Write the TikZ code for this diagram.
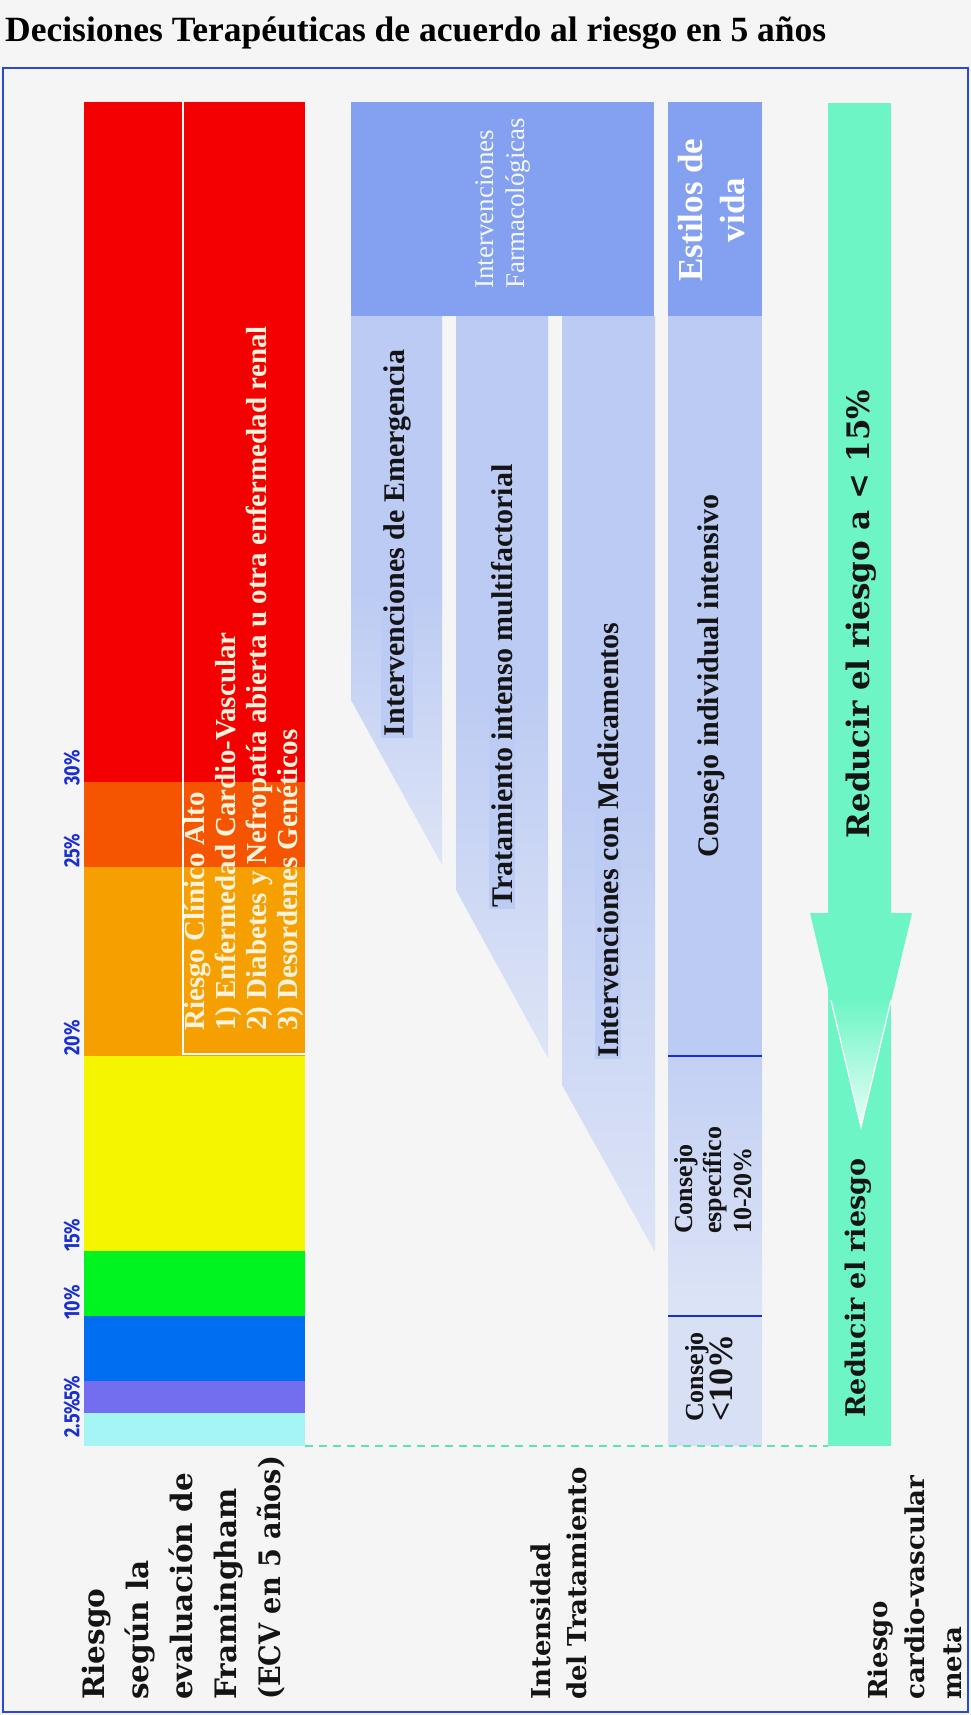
\documentclass[tikz,border=0pt]{standalone}
\usepackage{graphicx}
\usepackage{fontspec}
\setmainfont{Liberation Serif}
\newfontfamily\dvserif{DejaVu Serif}
\newfontfamily\pctfont{Fira Sans}
\newcommand\pctlab[1]{\scalebox{0.82}[1]{#1}}
\definecolor{bgc}{HTML}{F5F5F5}
\definecolor{framec}{HTML}{2B47D6}
\definecolor{cRed}{HTML}{F50000}
\definecolor{cDOr}{HTML}{F55500}
\definecolor{cOr}{HTML}{F5A000}
\definecolor{cYe}{HTML}{F5F500}
\definecolor{cGr}{HTML}{00F520}
\definecolor{cBl}{HTML}{006EF0}
\definecolor{cPu}{HTML}{736EF0}
\definecolor{cCy}{HTML}{A5F5F5}
\definecolor{pctblue}{HTML}{1A2FD0}
\definecolor{hdr}{HTML}{84A0F0}
\definecolor{colA}{HTML}{BCCBF3}
\definecolor{colB}{HTML}{DDE4F6}
\definecolor{mint}{HTML}{6EF5C6}
\definecolor{mintd}{HTML}{5EE3B4}
\definecolor{sepblue}{HTML}{1530D0}
\definecolor{cream}{HTML}{FFF3DC}
\tikzset{
  pct/.style={rotate=90, anchor=west, inner sep=0pt, text=pctblue,
    font=\pctfont\bfseries\fontsize{22}{24}\selectfont},
  coltext/.style={rotate=90, inner sep=2pt, fill=colA, text=black!92,
    font=\bfseries\fontsize{30}{34}\selectfont},
  rowlabel/.style={rotate=90, anchor=west, inner sep=0pt, align=left,
    text=black!92, font=\dvserif\bfseries\fontsize{29.5}{44}\selectfont},
  greentext/.style={rotate=90, inner sep=0pt, text=black!92,
    font=\dvserif\bfseries\fontsize{27}{32}\selectfont},
  colshade/.style={top color=colA, bottom color=colB, middle color=colA},
}
\begin{document}
\begin{tikzpicture}[x=1pt,y=-1pt]
\useasboundingbox (0,0) rectangle (971,1715);
\fill[bgc] (0,0) rectangle (971,1715);
% title
\node[anchor=west, inner sep=0pt, font=\bfseries\fontsize{35.5}{40}\selectfont] (title) at (5,33)
  {Decisiones Terapéuticas de acuerdo al riesgo en 5 años};
% frame
\draw[framec, line width=2pt] (3,68) rectangle (968,1712);
% risk bars
\fill[cRed] (84,102) rectangle (305,782);
\fill[cDOr] (84,782) rectangle (305,867);
\fill[cOr]  (84,867) rectangle (305,1056);
\fill[cYe]  (84,1056) rectangle (305,1251);
\fill[cGr]  (84,1251) rectangle (305,1316);
\fill[cBl]  (84,1316) rectangle (305,1381);
\fill[cPu]  (84,1381) rectangle (305,1413);
\fill[cCy]  (84,1413) rectangle (305,1446);
\draw[white, line width=1.5pt] (183,102) -- (183,1054) -- (305,1054);
\node[rotate=90, anchor=west, inner sep=0pt, align=left, text=cream,
  font=\bfseries\fontsize{29}{31}\selectfont] (alto) at (244,1031)
  {Riesgo Clínico Alto\\1) Enfermedad Cardio-Vascular\\2) Diabetes y Nefropatía abierta u otra enfermedad renal\\3) Desordenes Genéticos};
% percentages
\node[pct] (p30) at (72,786) {\pctlab{30\%}};
\node[pct] (p25) at (72,868) {\pctlab{25\%}};
\node[pct] (p20) at (72,1056) {\pctlab{20\%}};
\node[pct] (p15) at (72,1252) {\pctlab{15\%}};
\node[pct] (p10) at (72,1320) {\pctlab{10\%}};
\node[pct] (p5) at (72,1401) {\pctlab{5\%}};
\node[pct] (p25b) at (72,1438) {\pctlab{2.5\%}};
% header boxes
\fill[hdr] (351,102) rectangle (654,316);
\fill[hdr] (668,102) rectangle (762,316);
\node[rotate=90, anchor=west, inner sep=0pt, align=left, text=white!92!hdr,
  font=\fontsize{27}{31}\selectfont] (farma) at (503,289)
  {Intervenciones\\Farmacológicas};
\node[rotate=90, inner sep=0pt, align=center, text=white,
  font=\bfseries\fontsize{35}{42}\selectfont] (estilos) at (712,210)
  {Estilos de\\vida};
% treatment columns
\shade[colshade] (351,316) -- (442,316) -- (442,865) -- (351,700) -- cycle;
\shade[colshade] (456,316) -- (548,316) -- (548,1058) -- (456,890) -- cycle;
\shade[colshade] (562,316) -- (655,316) -- (655,1252) -- (562,1085) -- cycle;
\fill[colA] (668,316) rectangle (762,1056);
\shade[top color=colA!80!colB, bottom color=colB] (668,1056) rectangle (762,1316);
\fill[colB!85!colA] (668,1316) rectangle (762,1446);
\draw[sepblue, line width=1.5pt] (668,1056) -- (762,1056);
\draw[sepblue, line width=1.5pt] (668,1316) -- (762,1316);
\node[coltext] (emerg) at (397,543) {Intervenciones de Emergencia};
\node[coltext] (multi) at (502,686) {Tratamiento intenso multifactorial};
\node[coltext] (medic) at (608,840) {Intervenciones con Medicamentos};
\node[coltext] (indiv) at (711,676) {Consejo individual intensivo};
\node[rotate=90, anchor=west, inner sep=0pt, align=left, text=black!92,
  font=\bfseries\fontsize{26}{29.5}\selectfont] (espec) at (713,1234)
  {Consejo\\específico\\10-20\%};
\node[rotate=90, anchor=west, inner sep=0pt, align=left, text=black!92] (menos) at (709,1422)
  {{\fontsize{26}{30}\selectfont\bfseries Consejo}\\{\fontsize{34}{38}\selectfont\bfseries <10\%}};
% green arrow
\fill[mint] (828,103) rectangle (891,1446);
\fill[mint] (810,913) -- (912,913) -- (861,1127) -- cycle;
\shade[top color=mint, bottom color=white!85!mint] (831,1000) -- (891,1000) -- (861,1127) -- cycle;
\draw[white, line width=1.2pt] (831,1000) -- (861,1127) -- (891,1000);
\node[greentext, font=\dvserif\bfseries\fontsize{31}{36}\selectfont] (goal15) at (861,614) {Reducir el riesgo a < 15\%};
\node[greentext] (reduce) at (858,1288) {Reducir el riesgo};
% dashed guide
\coordinate (dashL) at (305,1446);
\coordinate (dashR) at (828,1446);
\draw[mintd, line width=1.6pt, dash pattern=on 8pt off 6pt] (dashL) -- (dashR);
% row labels
\node[rowlabel] (lab1) at (184,1700)
  {Riesgo\\según la\\evaluación de\\Framingham\\\scalebox{0.92}[1]{(ECV en 5 años)}};
\node[rowlabel, font=\dvserif\bfseries\fontsize{26}{36}\selectfont] (lab2) at (559,1700)
  {Intensidad\\del Tratamiento};
\node[rowlabel, font=\dvserif\bfseries\fontsize{26}{37}\selectfont] (lab3) at (915,1700)
  {Riesgo\\cardio-vascular\\meta};
\end{tikzpicture}
\end{document}
